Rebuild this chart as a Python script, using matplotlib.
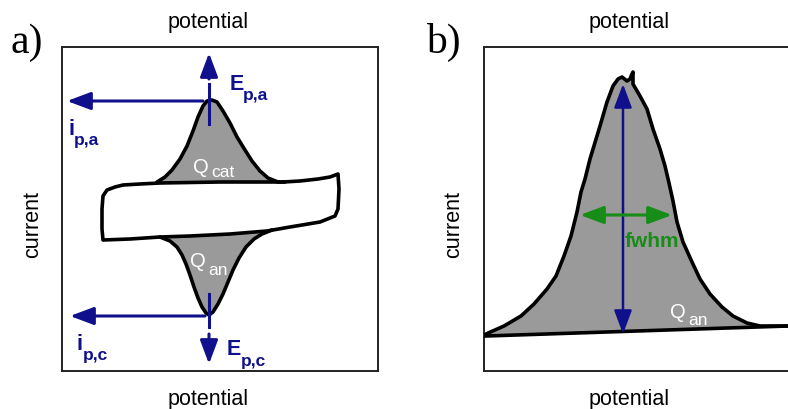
import numpy as np
import matplotlib.pyplot as plt

plt.rcParams['font.family'] = ['Liberation Sans', 'DejaVu Sans']

NAVY = '#10108c'
GREEN = '#178c17'
GREY = '#9a9a9a'

# ---- panel a: cyclic voltammogram (potential / current in arbitrary units) ----
# capacitive loop, traced clockwise
loop_pot = [41, 45, 53, 61, 78, 98, 158, 221, 238, 256, 268, 276,
            277, 276, 273,
            258, 228, 205, 168, 128, 98, 68, 41,
            40, 40]
loop_cur = [175, 181, 184, 186, 187, 188, 189, 189, 190, 192, 194, 197,
            182, 162, 155,
            149, 144, 140, 137, 135, 134, 132, 131,
            142, 162]

# anodic peak sitting on the upper branch (Q_cat)
peak_up_pot = [95, 103, 110, 118, 125, 131, 136, 141, 145, 150, 155, 161,
               168, 175, 183, 190, 198, 206, 216, 223]
peak_up_cur = [189, 194, 201, 212, 225, 240, 254, 265, 270, 271, 269, 260,
               248, 234, 221, 210, 200, 193, 189, 189]

# cathodic peak below the lower branch (Q_an)
peak_dn_pot = [98, 108, 115, 120, 124, 128, 132, 136, 140, 144, 147, 151,
               156, 161, 166, 171, 177, 184, 192, 200, 210]
peak_dn_cur = [134, 130, 124, 116, 107, 96, 84, 73, 64, 58, 56, 59,
               67, 77, 89, 101, 113, 124, 132, 137, 141]

# peak potentials / currents
ep_a, ip_a = 147, 270
ep_c, ip_c = 147, 55

# ---- panel b: single oxidative peak with linear baseline ----
peak_b_pot = [2, 20, 37, 50, 63, 72, 80, 87, 93, 97, 101, 106, 116, 123,
              129, 134, 138, 143, 146, 148, 149, 149, 156, 163, 169, 176,
              181, 185, 189, 193, 199, 208, 216, 226, 238, 249, 263, 276, 304]
peak_b_cur = [37, 45, 55, 67, 82, 95, 115, 135, 159, 179, 192, 212, 245, 269,
              285, 292, 294, 290, 292, 297, 299, 287, 275, 262, 242, 222,
              205, 188, 170, 149, 129, 109, 92, 77, 64, 55, 48, 45, 45]
base_b_pot = [2, 304]
base_b_cur = [35, 45]

# peak height marker (potential, baseline current, peak current)
height_b = (139, 37, 287)
# full width at half maximum (left potential, right potential, current)
fwhm_b = (96, 188, 156)

W, H = 788, 410


def px_box(l, t, r, b):
    return [l / W, (H - b) / H, (r - l) / W, (b - t) / H]


def ftext(x, y, s, **kw):
    fig.text(x / W, 1 - y / H, s, **kw)


def arrow(ax, x0, y0, x1, y1, color, lw=2.2, both=False, hl=0.8, hw=0.3):
    style = '<|-|>' if both else '-|>'
    ax.annotate('', xy=(x1, y1), xytext=(x0, y0),
                arrowprops=dict(arrowstyle=f'{style},head_length={hl},head_width={hw}',
                                color=color, lw=lw, shrinkA=0, shrinkB=0,
                                mutation_scale=18))


fig = plt.figure(figsize=(W / 100, H / 100), dpi=100)

ax_a = fig.add_axes(px_box(62, 48, 378, 372))
ax_b = fig.add_axes(px_box(484, 48, 800, 372))
for ax in (ax_a, ax_b):
    ax.set_xlim(0, 316)
    ax.set_ylim(0, 324)
    ax.set_xticks([])
    ax.set_yticks([])
    for sp in ax.spines.values():
        sp.set_linewidth(1.4)
        sp.set_color('#222222')

# panel a
LW = 2.6
ax_a.fill(peak_up_pot, peak_up_cur, color=GREY, zorder=2)
ax_a.fill(peak_dn_pot, peak_dn_cur, color=GREY, zorder=2)
ax_a.fill(loop_pot, loop_cur, facecolor='white', edgecolor='black', lw=LW,
          joinstyle='round', zorder=3)
ax_a.plot(peak_up_pot, peak_up_cur, color='black', lw=LW, solid_capstyle='round',
          solid_joinstyle='round', zorder=4)
ax_a.plot(peak_dn_pot, peak_dn_cur, color='black', lw=LW, solid_capstyle='round',
          solid_joinstyle='round', zorder=4)

# anodic peak markers
arrow(ax_a, ep_a - 6, ip_a, 5, ip_a, NAVY)
ax_a.plot([ep_a, ep_a], [ip_a - 23, ip_a + 17], color=NAVY, lw=2.2, zorder=5)
arrow(ax_a, ep_a, ip_a + 22, ep_a, 318, NAVY)
# cathodic peak markers
arrow(ax_a, ep_c - 4, ip_c, 8, ip_c, NAVY)
ax_a.plot([ep_c, ep_c], [ip_c + 22, ip_c - 11], color=NAVY, lw=2.2, zorder=5)
arrow(ax_a, ep_c, ip_c - 18, ep_c, 7, NAVY)

ax_a.text(168, 282, 'E', color=NAVY, fontsize=15.5, fontweight='bold')
ax_a.text(181, 272, 'p,a', color=NAVY, fontsize=12.5, fontweight='bold')
ax_a.text(6, 237, 'i', color=NAVY, fontsize=15.5, fontweight='bold')
ax_a.text(12, 227, 'p,a', color=NAVY, fontsize=12.5, fontweight='bold')
ax_a.text(165, 17, 'E', color=NAVY, fontsize=15.5, fontweight='bold')
ax_a.text(179, 6, 'p,c', color=NAVY, fontsize=12.5, fontweight='bold')
ax_a.text(15, 22, 'i', color=NAVY, fontsize=15.5, fontweight='bold')
ax_a.text(21, 12, 'p,c', color=NAVY, fontsize=12.5, fontweight='bold')

ax_a.text(131, 199, 'Q', color='white', fontsize=14.5, zorder=6)
ax_a.text(149, 195, 'cat', color='white', fontsize=12.5, zorder=6)
ax_a.text(128, 105, 'Q', color='white', fontsize=14.5, zorder=6)
ax_a.text(146, 97, 'an', color='white', fontsize=12.5, zorder=6)

# panel b
ax_b.fill(peak_b_pot + base_b_pot[::-1], peak_b_cur + base_b_cur[::-1],
          color=GREY, zorder=2)
ax_b.plot(base_b_pot, base_b_cur, color='black', lw=LW, zorder=3)
ax_b.plot(peak_b_pot, peak_b_cur, color='black', lw=LW, solid_joinstyle='round',
          solid_capstyle='round', zorder=3)

x_h, y0_h, y1_h = height_b
arrow(ax_b, x_h, (y0_h + y1_h) / 2, x_h, y1_h, NAVY, lw=1.8)
arrow(ax_b, x_h, (y0_h + y1_h) / 2, x_h, y0_h, NAVY, lw=1.8)
xl, xr, y_f = fwhm_b
arrow(ax_b, (xl + xr) / 2, y_f, xl, y_f, GREEN, lw=2.2)
arrow(ax_b, (xl + xr) / 2, y_f, xr, y_f, GREEN, lw=2.2)
ax_b.text(141, 125, 'fwhm', color=GREEN, fontsize=15, fontweight='bold', zorder=6)
ax_b.text(186, 54, 'Q', color='white', fontsize=14.5, zorder=6)
ax_b.text(204, 47, 'an', color='white', fontsize=12.5, zorder=6)

# axis titles and panel letters
for cx in (208, 629):
    ftext(cx, 28, 'potential', fontsize=15.5, ha='center', va='baseline')
    ftext(cx, 405, 'potential', fontsize=15.5, ha='center', va='baseline')
ftext(33, 224, 'current', fontsize=15.5, ha='center', va='center', rotation=90)
ftext(454, 224, 'current', fontsize=15.5, ha='center', va='center', rotation=90)
ftext(10, 53, 'a)', fontsize=30, family='Liberation Serif', va='baseline')
ftext(426, 53, 'b)', fontsize=30, family='Liberation Serif', va='baseline')

fig.savefig('out.png', dpi=100)
